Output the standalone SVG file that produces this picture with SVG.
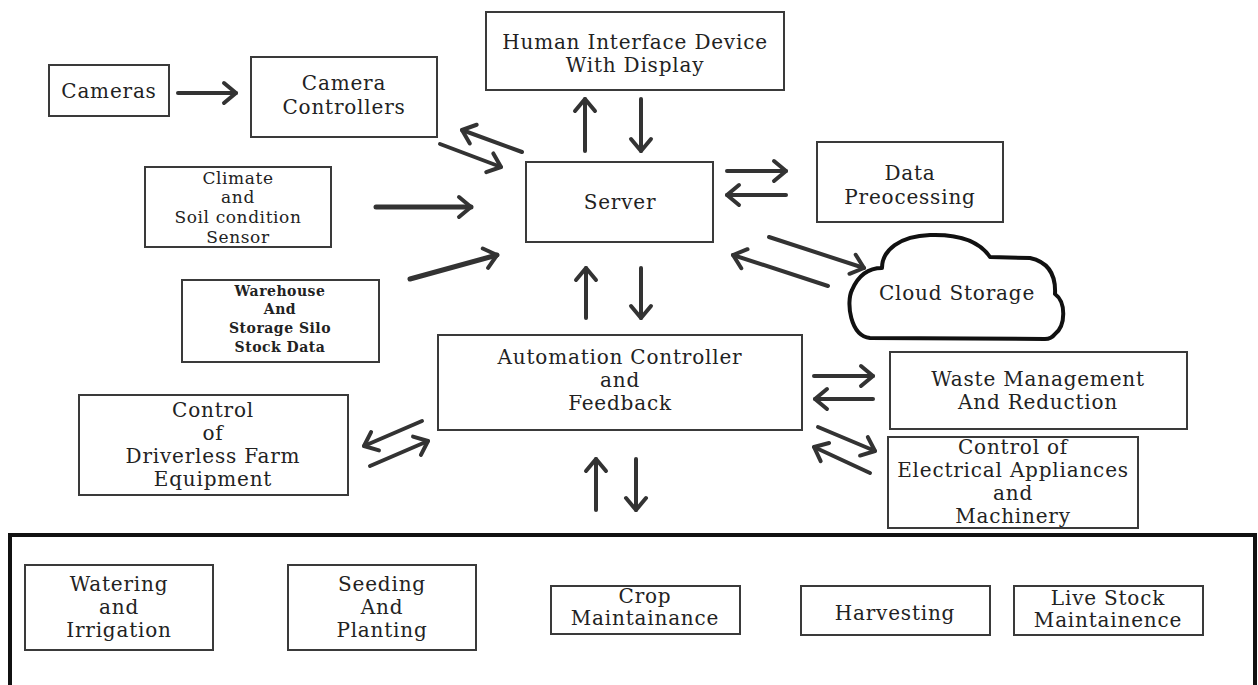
<svg xmlns="http://www.w3.org/2000/svg" width="1258" height="685" viewBox="0 0 1258 685">
  <style>
    .box { fill: #fff; stroke: #3a3a3a; stroke-width: 2; }
    .frame { fill: none; stroke: #111; stroke-width: 4; }
    .cloud { fill: #fff; stroke: #111; stroke-width: 4; stroke-linejoin: round; }
    .t { font-family: "DejaVu Serif", "Liberation Serif", serif; font-size: 20px; letter-spacing: 0.8px; fill: #222; text-anchor: middle; }
    .s { font-size: 17px; letter-spacing: 0.6px; }
    .xs { font-size: 14px; font-weight: bold; letter-spacing: 0.5px; }
    .arr { fill: none; stroke: #333; stroke-width: 4; stroke-linecap: round; marker-end: url(#head); }
    .arr.heavy { stroke-width: 5; }
  </style>
  <defs>
    <marker id="head" markerUnits="userSpaceOnUse" viewBox="-16 -13 19 26" refX="0" refY="0" markerWidth="19" markerHeight="26" orient="auto">
      <path d="M -12 -10 L 0 0 L -12 10" fill="none" stroke="#333" stroke-width="4" stroke-linecap="round" stroke-linejoin="round"/>
    </marker>
  </defs>
  <rect width="1258" height="685" fill="#fff"/>

  <g id="cameras">
    <rect class="box" x="49" y="65" width="120" height="51"/>
    <text class="t" x="109" y="98">Cameras</text>
  </g>
  <g id="camera-controllers">
    <rect class="box" x="251" y="57" width="186" height="80"/>
    <text class="t" x="344" y="90">Camera</text>
    <text class="t" x="344" y="114">Controllers</text>
  </g>
  <g id="hid">
    <rect class="box" x="486" y="12" width="298" height="78"/>
    <text class="t" x="635" y="49">Human Interface Device</text>
    <text class="t" x="635" y="72">With Display</text>
  </g>
  <g id="server">
    <rect class="box" x="526" y="162" width="187" height="80"/>
    <text class="t" x="620" y="209">Server</text>
  </g>
  <g id="data-preprocessing">
    <rect class="box" x="817" y="142" width="186" height="80"/>
    <text class="t" x="910" y="180">Data</text>
    <text class="t" x="910" y="204">Preocessing</text>
  </g>
  <g id="cloud-storage">
    <path class="cloud" d="M 870 338 C 850 336 846 302 852 290 C 858 276 868 268 882 268 C 882 250 900 236 930 235 C 960 234 980 242 990 257 L 1030 258 C 1048 262 1056 275 1055 294 C 1066 302 1066 325 1055 334 C 1052 338 1048 339 1045 339 Z"/>
    <text class="t" x="957" y="300">Cloud Storage</text>
  </g>
  <g id="climate-sensor">
    <rect class="box" x="145" y="167" width="186" height="80"/>
    <text class="t s" x="238" y="184">Climate</text>
    <text class="t s" x="238" y="203">and</text>
    <text class="t s" x="238" y="223">Soil condition</text>
    <text class="t s" x="238" y="243">Sensor</text>
  </g>
  <g id="warehouse">
    <rect class="box" x="182" y="280" width="197" height="82"/>
    <text class="t xs" x="280" y="296">Warehouse</text>
    <text class="t xs" x="280" y="314">And</text>
    <text class="t xs" x="280" y="333">Storage Silo</text>
    <text class="t xs" x="280" y="352">Stock Data</text>
  </g>
  <g id="automation-controller">
    <rect class="box" x="438" y="335" width="364" height="95"/>
    <text class="t" x="620" y="364">Automation Controller</text>
    <text class="t" x="620" y="387">and</text>
    <text class="t" x="620" y="410">Feedback</text>
  </g>
  <g id="driverless-equipment">
    <rect class="box" x="79" y="395" width="269" height="100"/>
    <text class="t" x="213" y="417">Control</text>
    <text class="t" x="213" y="440">of</text>
    <text class="t" x="213" y="463">Driverless Farm</text>
    <text class="t" x="213" y="486">Equipment</text>
  </g>
  <g id="waste-management">
    <rect class="box" x="890" y="352" width="297" height="77"/>
    <text class="t" x="1038" y="386">Waste Management</text>
    <text class="t" x="1038" y="409">And Reduction</text>
  </g>
  <g id="electrical-control">
    <rect class="box" x="888" y="437" width="250" height="91"/>
    <text class="t" x="1013" y="454">Control of</text>
    <text class="t" x="1013" y="477">Electrical Appliances</text>
    <text class="t" x="1013" y="500">and</text>
    <text class="t" x="1013" y="523">Machinery</text>
  </g>

  <g id="farm-operations">
    <path class="frame" d="M 10 690 L 10 535 L 1255 535 L 1255 690"/>
    <g id="watering">
      <rect class="box" x="25" y="565" width="188" height="85"/>
      <text class="t" x="119" y="591">Watering</text>
      <text class="t" x="119" y="614">and</text>
      <text class="t" x="119" y="637">Irrigation</text>
    </g>
    <g id="seeding">
      <rect class="box" x="288" y="565" width="188" height="85"/>
      <text class="t" x="382" y="591">Seeding</text>
      <text class="t" x="382" y="614">And</text>
      <text class="t" x="382" y="637">Planting</text>
    </g>
    <g id="crop-maintenance">
      <rect class="box" x="551" y="586" width="189" height="48"/>
      <text class="t" x="645" y="603">Crop</text>
      <text class="t" x="645" y="625">Maintainance</text>
    </g>
    <g id="harvesting">
      <rect class="box" x="801" y="586" width="189" height="49"/>
      <text class="t" x="895" y="620">Harvesting</text>
    </g>
    <g id="livestock">
      <rect class="box" x="1014" y="586" width="189" height="49"/>
      <text class="t" x="1108" y="605">Live Stock</text>
      <text class="t" x="1108" y="627">Maintainence</text>
    </g>
  </g>

  <g id="connectors">
    <line class="arr" x1="178" y1="93" x2="236" y2="93"/>
    <line class="arr" x1="522" y1="152" x2="462" y2="130"/>
    <line class="arr" x1="440" y1="144" x2="501" y2="167"/>
    <line class="arr heavy" x1="376" y1="207" x2="471" y2="207"/>
    <line class="arr heavy" x1="410" y1="279" x2="497" y2="255"/>
    <line class="arr" x1="585" y1="151" x2="585" y2="99"/>
    <line class="arr" x1="641" y1="99" x2="641" y2="151"/>
    <line class="arr" x1="586" y1="318" x2="586" y2="268"/>
    <line class="arr" x1="641" y1="268" x2="641" y2="318"/>
    <line class="arr" x1="727" y1="171" x2="786" y2="171"/>
    <line class="arr" x1="786" y1="195" x2="727" y2="195"/>
    <line class="arr" x1="769" y1="237" x2="864" y2="268"/>
    <line class="arr" x1="828" y1="286" x2="733" y2="255"/>
    <line class="arr" x1="814" y1="376" x2="873" y2="376"/>
    <line class="arr" x1="873" y1="399" x2="815" y2="399"/>
    <line class="arr" x1="818" y1="427" x2="875" y2="451"/>
    <line class="arr" x1="870" y1="473" x2="814" y2="447"/>
    <line class="arr" x1="422" y1="421" x2="364" y2="446"/>
    <line class="arr" x1="370" y1="466" x2="428" y2="441"/>
    <line class="arr" x1="596" y1="510" x2="596" y2="459"/>
    <line class="arr" x1="636" y1="459" x2="636" y2="510"/>
  </g>
</svg>
